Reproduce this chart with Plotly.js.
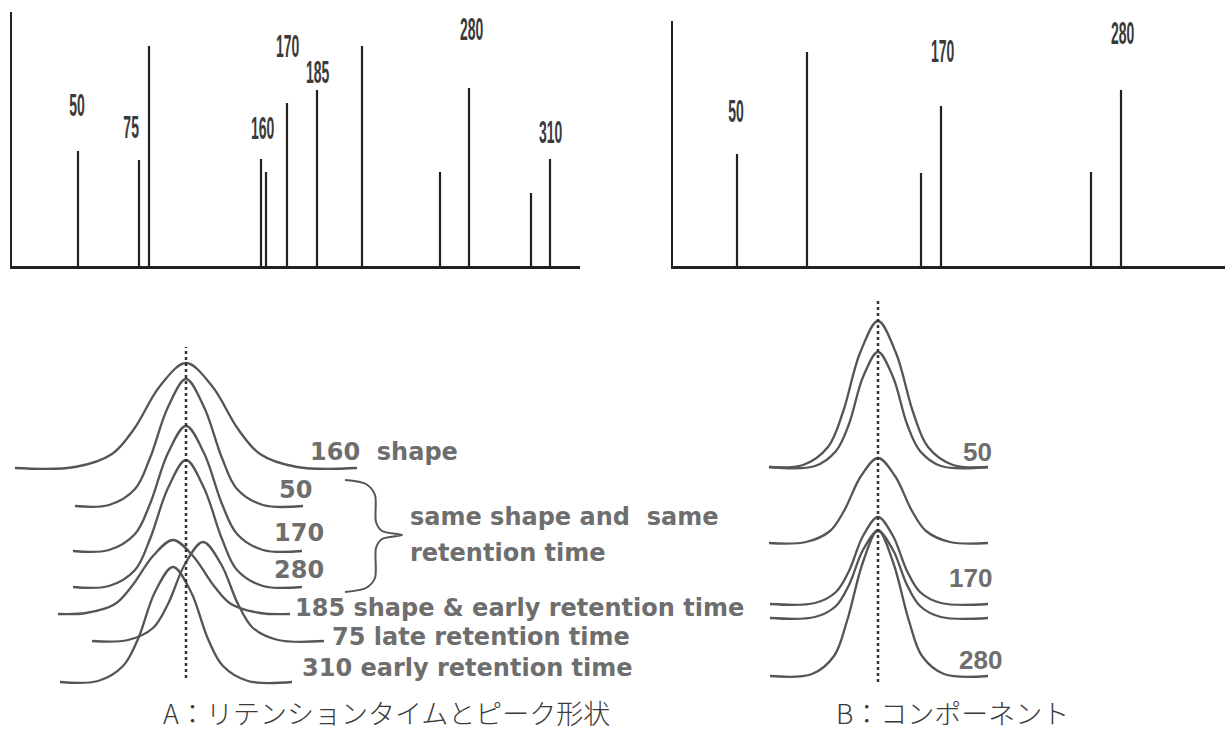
<!DOCTYPE html>
<html><head><meta charset="utf-8">
<script src="https://cdn.plot.ly/plotly-3.0.1.min.js"></script>
<style>html,body{margin:0;padding:0;background:#fff;} #chart{width:1227px;height:733px;}</style>
</head><body><div id="chart"></div>
<script>
// ---------- Top-left spectrum (A) ----------
const specA_pos = [66, 127, 137, 249, 254, 275, 305, 350, 428, 457, 519, 538];
const specA_int = [115, 106, 220, 107, 94, 163, 176, 220, 94, 178, 73, 107];
const specA_labels = ['50', '75', '160', '170', '185', '280', '310'];
const specA_labelX = [65, 119, 250, 275, 305, 459, 538];
const specA_labelY = [161, 139, 138, 220, 194, 237, 134];

// ---------- Top-right spectrum (B) ----------
const specB_pos = [64, 134, 248, 268, 418, 448];
const specB_int = [112, 214, 93, 160, 94, 176];
const specB_labels = ['50', '170', '280'];
const specB_labelX = [63, 269, 449];
const specB_labelY = [155, 215, 233];

// ---------- Bottom-left peak profiles (A) ----------
const pA160_x = [-171, -111, -74, -52, -26, 0, 26, 52, 74, 111, 171];
const pA160_y = [232, 233, 246, 271, 314, 337, 314, 271, 246, 233, 232];
const pA50_x  = [-111, -77, -51, -36, -18, 0, 18, 36, 51, 77, 117];
const pA50_y  = [194, 195, 211, 242, 293, 321, 293, 242, 211, 195, 194];
const pA170_x = [-113, -77, -51, -36, -18, 0, 18, 36, 51, 77, 116];
const pA170_y = [149, 150, 166, 196, 247, 274, 247, 196, 166, 150, 149];
const pA280_x = [-113, -77, -51, -36, -18, 0, 18, 36, 51, 77, 116];
const pA280_y = [113, 114, 130, 161, 212, 240, 212, 161, 130, 114, 113];
const pA185_x = [-128, -100, -71, -54, -33, -13, 7, 28, 45, 74, 104];
const pA185_y = [86, 87, 96, 114, 144, 160, 144, 114, 96, 87, 86];
const pA75_x  = [-94, -58, -33, -18, -1, 17, 35, 52, 67, 92, 138];
const pA75_y  = [59, 60, 72, 96, 136, 158, 136, 96, 72, 60, 59];
const pA310_x = [-126, -88, -63, -48, -31, -13, 5, 22, 37, 62, 106];
const pA310_y = [18, 19, 34, 61, 108, 133, 108, 61, 34, 19, 18];
const refA_y = [22, 353];
const braceA_x = [159, 180, 189, 190, 196, 216, 196, 190, 189, 180, 159];
const braceA_y = [220, 216, 205, 178, 169, 165, 161, 152, 122, 112, 108];
const textA = ['160  shape', '50', '170', '280', 'same shape and  same', 'retention time',
               '185 shape &amp; early retention time', '75 late retention time', '310 early retention time'];
const textA_x = [122, 91, 86, 86, 222, 222, 107, 144, 114];
const textA_y = [248, 210, 167, 130, 183, 147, 92, 63, 32];

// ---------- Bottom-right peak profiles (B) ----------
const pB1_x = [-109, -75, -50, -35, -18, 0, 18, 35, 50, 75, 110];
const pB1_y = [233, 235, 253, 288, 347, 379, 347, 288, 253, 235, 233];
const pB2_x = [-109, -63, -42, -29, -15, 0, 15, 29, 42, 63, 110];
const pB2_y = [233, 234, 249, 276, 323, 348, 323, 276, 249, 234, 233];
const pB3_x = [-109, -72, -48, -34, -17, 0, 17, 34, 48, 72, 110];
const pB3_y = [157, 158, 169, 189, 224, 242, 224, 189, 169, 158, 157];
const pB4_x = [-108, -63, -42, -29, -15, 0, 15, 29, 42, 63, 110];
const pB4_y = [96, 97, 108, 129, 164, 183, 164, 129, 108, 97, 96];
const pB5_x = [-108, -63, -42, -29, -15, 0, 15, 29, 42, 63, 110];
const pB5_y = [82, 83, 94, 115, 150, 169, 150, 115, 94, 83, 82];
const pB6_x = [-108, -66, -44, -31, -15, 0, 15, 31, 44, 66, 110];
const pB6_y = [24, 26, 44, 79, 138, 170, 138, 79, 44, 26, 24];
const refB_y = [18, 400];
const textB = ['50', '170', '280'];
const textB_x = [99, 92, 102];
const textB_y = [248, 122, 40];

// ---------- Captions ----------
const captions = ['A：リテンションタイムとピーク形状', 'B：コンポーネント'];

const W = 1227, H = 733;
const px = v => v / W, py = v => 1 - v / H;

const curveLine = {shape: 'spline', smoothing: 1, color: '#555', width: 2.3};
function curve(x, y, xa, ya) {
  return {type: 'scatter', mode: 'lines', x: x, y: y, xaxis: xa, yaxis: ya,
          line: curveLine, hoverinfo: 'skip'};
}

const traces = [
  {type: 'bar', x: specA_pos, y: specA_int, width: 2.2, marker: {color: '#222'},
   xaxis: 'x', yaxis: 'y', hoverinfo: 'skip'},
  {type: 'bar', x: specB_pos, y: specB_int, width: 2.2, marker: {color: '#222'},
   xaxis: 'x2', yaxis: 'y2', hoverinfo: 'skip'},
  curve(pA160_x, pA160_y, 'x3', 'y3'),
  curve(pA50_x, pA50_y, 'x3', 'y3'),
  curve(pA170_x, pA170_y, 'x3', 'y3'),
  curve(pA280_x, pA280_y, 'x3', 'y3'),
  curve(pA185_x, pA185_y, 'x3', 'y3'),
  curve(pA75_x, pA75_y, 'x3', 'y3'),
  curve(pA310_x, pA310_y, 'x3', 'y3'),
  {type: 'scatter', mode: 'lines', x: [0, 0], y: refA_y, xaxis: 'x3', yaxis: 'y3',
   line: {color: '#333', width: 2.5, dash: 'dot'}, hoverinfo: 'skip'},
  {type: 'scatter', mode: 'lines', x: braceA_x, y: braceA_y, xaxis: 'x3', yaxis: 'y3',
   line: {shape: 'spline', smoothing: 0.8, color: '#555', width: 2}, hoverinfo: 'skip'},
  curve(pB1_x, pB1_y, 'x4', 'y4'),
  curve(pB2_x, pB2_y, 'x4', 'y4'),
  curve(pB3_x, pB3_y, 'x4', 'y4'),
  curve(pB4_x, pB4_y, 'x4', 'y4'),
  curve(pB5_x, pB5_y, 'x4', 'y4'),
  curve(pB6_x, pB6_y, 'x4', 'y4'),
  {type: 'scatter', mode: 'lines', x: [0, 0], y: refB_y, xaxis: 'x4', yaxis: 'y4',
   line: {color: '#333', width: 2.5, dash: 'dot'}, hoverinfo: 'skip'}
];

const annotations = [];
const topFont = {family: 'Liberation Sans, Arial, sans-serif', size: 20, color: '#3a3a3a'};
specA_labels.forEach((t, i) => annotations.push({text: '<b>' + t + '</b>', x: specA_labelX[i], y: specA_labelY[i],
  xref: 'x', yref: 'y', showarrow: false, xanchor: 'center', yanchor: 'middle', font: topFont}));
specB_labels.forEach((t, i) => annotations.push({text: '<b>' + t + '</b>', x: specB_labelX[i], y: specB_labelY[i],
  xref: 'x2', yref: 'y2', showarrow: false, xanchor: 'center', yanchor: 'middle', font: topFont}));
const nTop = annotations.length;
const lowFont = {family: 'DejaVu Sans, sans-serif', size: 24, color: '#6e6e6e'};
textA.forEach((t, i) => annotations.push({text: '<b>' + t + '</b>', x: textA_x[i], y: textA_y[i],
  xref: 'x3', yref: 'y3', showarrow: false, xanchor: 'left', yanchor: 'middle', font: lowFont}));
const numFont = {family: 'Liberation Sans, sans-serif', size: 26, color: '#6e6e6e'};
textB.forEach((t, i) => annotations.push({text: '<b>' + t + '</b>', x: textB_x[i], y: textB_y[i],
  xref: 'x4', yref: 'y4', showarrow: false, xanchor: 'center', yanchor: 'middle', font: numFont}));
const capFont = {family: 'Noto Sans CJK JP, sans-serif', size: 27, color: '#3a3a3a', weight: 300};
annotations.push({text: captions[0], x: px(386), y: py(712), xref: 'paper', yref: 'paper',
  showarrow: false, xanchor: 'center', yanchor: 'middle', font: capFont});
annotations.push({text: captions[1], x: px(952), y: py(712), xref: 'paper', yref: 'paper',
  showarrow: false, xanchor: 'center', yanchor: 'middle', font: capFont});

const hidden = {visible: false, showgrid: false, zeroline: false, fixedrange: true};
const spectrumAxis = {showline: true, linecolor: '#222', linewidth: 2.5, showgrid: false, zeroline: false,
  showticklabels: false, ticks: '', fixedrange: true};

const layout = {
  width: W, height: H, margin: {l: 0, r: 0, t: 0, b: 0},
  paper_bgcolor: '#fff', plot_bgcolor: 'rgba(0,0,0,0)', showlegend: false,
  xaxis: Object.assign({}, spectrumAxis, {domain: [px(12), px(580)], range: [0, 568], anchor: 'y'}),
  yaxis: Object.assign({}, spectrumAxis, {domain: [py(266), py(12)], range: [0, 254], anchor: 'x'}),
  xaxis2: Object.assign({}, spectrumAxis, {domain: [px(673), px(1225)], range: [0, 552], anchor: 'y2'}),
  yaxis2: Object.assign({}, spectrumAxis, {domain: [py(266), py(21)], range: [0, 245], anchor: 'x2'}),
  xaxis3: Object.assign({}, hidden, {domain: [0, px(620)], range: [-186, 434], anchor: 'y3'}),
  yaxis3: Object.assign({}, hidden, {domain: [py(700), py(290)], range: [0, 410], anchor: 'x3'}),
  xaxis4: Object.assign({}, hidden, {domain: [px(740), px(1040)], range: [-138, 162], anchor: 'y4'}),
  yaxis4: Object.assign({}, hidden, {domain: [py(700), py(290)], range: [0, 410], anchor: 'x4'}),
  annotations: annotations
};

Plotly.newPlot('chart', traces, layout, {staticPlot: true, displayModeBar: false}).then(gd => {
  // condensed, tall lettering of the spectrum peak labels
  gd.querySelectorAll('g.annotation').forEach(g => {
    const i = +g.getAttribute('data-index');
    if (i < nTop) {
      const t = g.querySelector('text');
      if (t) {
        t.style.transformBox = 'fill-box';
        t.style.transformOrigin = 'center';
        t.style.transform = 'scale(0.7,1.6)';
      }
    }
  });
});
</script>
</body></html>
